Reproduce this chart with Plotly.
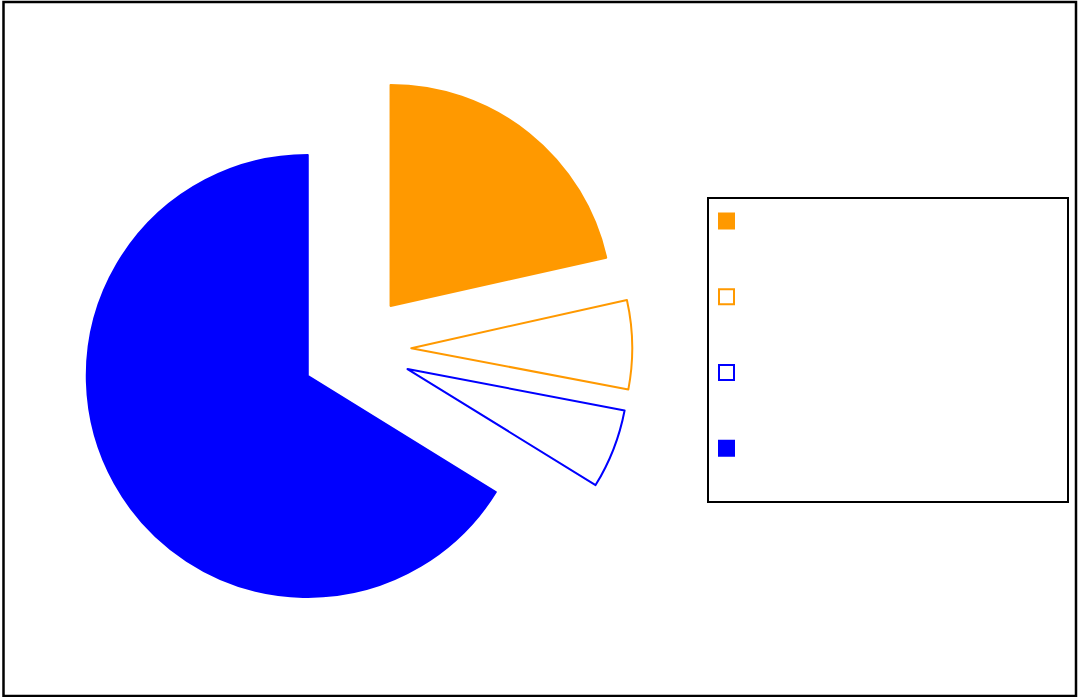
import plotly.graph_objects as go

# Slice data (clockwise from 12 o'clock)
slice_keys = [" ", "  ", "   ", "    "]          # blank legend entries
slice_values = [21.5, 6.5, 5.8, 66.2]
fill_colors = ["#FF9900", "#FFFFFF", "#FFFFFF", "#0000FF"]
edge_colors = ["#FF9900", "#FF9900", "#0000FF", "#0000FF"]
slice_pull = [0.25, 0.25, 0.25, 0.25]

W, H = 1078, 697

fig = go.Figure()
fig.add_trace(
    go.Pie(
        labels=slice_keys,
        values=slice_values,
        sort=False,
        direction="clockwise",
        rotation=0,
        pull=slice_pull,
        textinfo="none",
        hoverinfo="value+percent",
        showlegend=False,
        marker=dict(colors=fill_colors, line=dict(color=edge_colors, width=2)),
        domain=dict(x=[0.0740, 0.5865], y=[0.1029, 0.8956]),
    )
)

# Legend keys: one square per slice, same fill/edge as the slice
for key, fc, ec in zip(slice_keys, fill_colors, edge_colors):
    fig.add_trace(
        go.Scatter(
            x=[None], y=[None], mode="markers", name=key, hoverinfo="skip",
            marker=dict(symbol="square", size=15, color=fc,
                        line=dict(color=ec, width=2)),
        )
    )

fig.update_layout(
    width=W,
    height=H,
    margin=dict(l=0, r=0, t=0, b=0),
    paper_bgcolor="white",
    plot_bgcolor="white",
    xaxis=dict(visible=False),
    yaxis=dict(visible=False),
    showlegend=True,
    legend=dict(
        x=706.5 / W,
        y=1 - 178 / H,
        xanchor="left",
        yanchor="top",
        bgcolor="rgba(0,0,0,0)",
        borderwidth=0,
        tracegroupgap=0,
        font=dict(family="DejaVu Sans", size=56, color="black"),
    ),
    shapes=[
        # outer frame
        dict(type="rect", xref="paper", yref="paper",
             x0=3.5 / W, x1=1076 / W, y0=1 - 696 / H, y1=1 - 2 / H,
             line=dict(color="black", width=2.5), fillcolor="rgba(0,0,0,0)"),
        # legend box
        dict(type="rect", xref="paper", yref="paper",
             x0=708 / W, x1=1068 / W, y0=1 - 502 / H, y1=1 - 198 / H,
             line=dict(color="black", width=2), fillcolor="rgba(0,0,0,0)"),
    ],
)

fig.write_html("out.html")
